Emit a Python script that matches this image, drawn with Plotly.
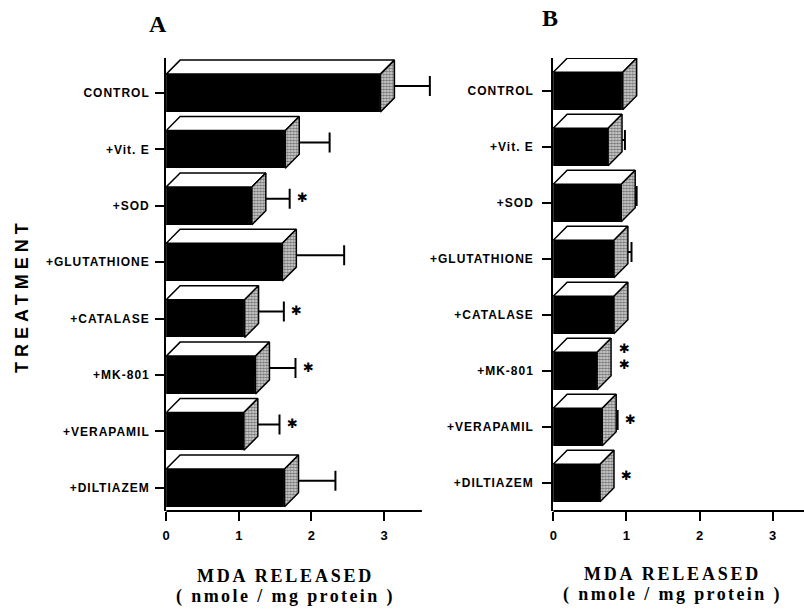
import plotly.graph_objects as go

# ---------------- data ----------------
treatments = ["CONTROL", "+Vit. E", "+SOD", "+GLUTATHIONE",
              "+CATALASE", "+MK-801", "+VERAPAMIL", "+DILTIAZEM"]
mda_a = [2.95, 1.64, 1.18, 1.60, 1.08, 1.23, 1.07, 1.63]
sem_a = [0.68, 0.61, 0.52, 0.85, 0.54, 0.55, 0.49, 0.70]
sig_a = [0, 0, 1, 0, 1, 1, 1, 0]
mda_b = [0.95, 0.75, 0.93, 0.83, 0.83, 0.60, 0.67, 0.64]
sem_b = [0.10, 0.23, 0.21, 0.24, 0.10, 0.10, 0.21, 0.10]
sig_b = [0, 0, 0, 0, 0, 2, 1, 1]
x_ticks = [0, 1, 2, 3]
panel_letters = ["A", "B"]
x_title = ["MDA RELEASED", "( nmole / mg protein )"]
y_title = "TREATMENT"
star = "\u2731"

# ---------------- layout geometry (pixels) ----------------
W, H = 804, 611
DEPTH = 14          # 3-D depth of bars, px
BAR_W = 0.67        # front-face thickness (category units)

panels = [
    dict(vals=mda_a, err=sem_a, sig=sig_a, xpx=(163, 445), axis_end=420, ytop=58, ybot=511,
         y0=93, ystep=56.4, xunit=73.0, xa="x", ya="y", title_x=283, title_y=576,
         letter=(155, 24), ystand=3),
    dict(vals=mda_b, err=sem_b, sig=sig_b, xpx=(552, 804), axis_end=804, ytop=58, ybot=511,
         y0=91, ystep=56.0, xunit=73.5, xa="x2", ya="y2", title_x=672, title_y=574,
         letter=(549, 18), ystand=6),
]

fig = go.Figure()
annotations = []
shapes = []
idx = list(range(len(treatments)))
serif = "Liberation Serif, Times New Roman, serif"
sans = "Liberation Sans, Arial, sans-serif"

for p_i, p in enumerate(panels):
    vals, err = p["vals"], p["err"]
    dx = DEPTH / p["xunit"]
    dy = DEPTH / p["ystep"]
    xa, ya = p["xa"], p["ya"]

    # front faces
    fig.add_trace(go.Bar(x=vals, y=idx, orientation="h", width=BAR_W, base=0,
                         marker=dict(color="black", line=dict(color="black", width=1)),
                         xaxis=xa, yaxis=ya, showlegend=False, hoverinfo="skip"))
    # error bars (drawn from the middle of the bar depth)
    fig.add_trace(go.Scatter(x=vals, y=[i - dy / 2 for i in idx], mode="markers",
                             marker=dict(size=1, color="rgba(0,0,0,0)"),
                             error_x=dict(type="data", array=err, arrayminus=[0] * len(err),
                                          symmetric=False, color="black", thickness=2, width=10),
                             xaxis=xa, yaxis=ya, showlegend=False, hoverinfo="skip"))
    # top faces
    tx, ty = [], []
    for i, v in zip(idx, vals):
        top = i - BAR_W / 2
        tx += [0, v, v + dx, dx, 0, None]
        ty += [top, top, top - dy, top - dy, top, None]
    fig.add_trace(go.Scatter(x=tx, y=ty, mode="lines", fill="toself", fillcolor="white",
                             line=dict(color="black", width=1.5),
                             xaxis=xa, yaxis=ya, showlegend=False, hoverinfo="skip"))
    # side faces (stippled)
    sx, sy = [], []
    for i, v in zip(idx, vals):
        top, bot = i - BAR_W / 2, i + BAR_W / 2
        sx += [v, v + dx, v + dx, v, v, None]
        sy += [top, top - dy, bot - dy, bot, top, None]
    fig.add_trace(go.Scatter(x=sx, y=sy, mode="lines", fill="toself", fillcolor="#8a8a8a",
                             fillpattern=dict(shape=".", bgcolor="#e0e0e0", fgcolor="#111111",
                                              size=3, solidity=0.6),
                             line=dict(color="black", width=1.5),
                             xaxis=xa, yaxis=ya, showlegend=False, hoverinfo="skip"))

    # significance asterisks
    for i, v, e, n in zip(idx, vals, err, p["sig"]):
        for k in range(n):
            annotations.append(dict(
                x=v + max(e, dx), y=i, xref=xa, yref=ya, text=star, showarrow=False,
                xanchor="center", yanchor="middle", xshift=13,
                yshift=8 - (n - 1) + 16 * k,
                font=dict(family="DejaVu Sans", size=13, color="black")))

    # axes
    x0, x1 = p["xpx"]
    xrng = [0, (x1 - x0) / p["xunit"]]
    yrng = [(p["ybot"] - p["y0"]) / p["ystep"], (p["ytop"] - p["y0"]) / p["ystep"]]
    xdom = [x0 / W, x1 / W]
    ydom = [(H - p["ybot"]) / H, (H - p["ytop"]) / H]
    suffix = "" if p_i == 0 else "2"
    fig.layout["xaxis" + suffix] = dict(
        domain=xdom, range=xrng, anchor="y" + suffix, tickvals=x_ticks,
        showline=False, ticks="outside", ticklen=9,
        tickwidth=2, tickcolor="black", showgrid=False, zeroline=False,
        ticklabelstandoff=3,
        tickfont=dict(family=sans, size=13, color="black", weight="bold"))
    fig.layout["yaxis" + suffix] = dict(
        domain=ydom, range=yrng, anchor="x" + suffix, tickvals=idx,
        ticktext=['<span style="letter-spacing:1px">%s</span>' % t for t in treatments],
        showline=True, linecolor="black", linewidth=2, ticks="outside", ticklen=9,
        tickwidth=2, tickcolor="black", showgrid=False, zeroline=False,
        ticklabelstandoff=p["ystand"],
        tickfont=dict(family=sans, size=12, color="black", weight="bold"))
    # x-axis baseline (ends before the plotting area does, as in the original)
    shapes.append(dict(type="line", xref=xa, yref=ya + " domain",
                       x0=0, x1=(p["axis_end"] - x0) / p["xunit"], y0=0, y1=0,
                       line=dict(color="black", width=2), layer="above"))

    # axis titles and panel letters
    annotations.append(dict(x=p["title_x"] / W, y=1 - p["title_y"] / H, xref="paper", yref="paper",
                            text='<span style="letter-spacing:2.8px">%s</span>' % x_title[0],
                            showarrow=False, xanchor="center", yanchor="middle",
                            font=dict(family=serif, size=18, color="black", weight="bold")))
    annotations.append(dict(x=p["title_x"] / W, y=1 - (p["title_y"] + 20.5) / H, xref="paper",
                            yref="paper",
                            text='<span style="letter-spacing:2.4px">%s</span>' % x_title[1],
                            showarrow=False, xanchor="center", yanchor="middle",
                            font=dict(family=serif, size=18, color="black", weight="bold")))
    lx, ly = p["letter"]
    annotations.append(dict(x=lx / W, y=1 - ly / H, xref="paper", yref="paper",
                            text=panel_letters[p_i], showarrow=False, xanchor="center",
                            yanchor="middle",
                            font=dict(family=serif, size=24, color="black", weight="bold")))

annotations.append(dict(x=18 / W, y=1 - 295 / H, xref="paper", yref="paper",
                        text='<span style="letter-spacing:5px">%s</span>' % y_title,
                        textangle=-90, showarrow=False, xanchor="center", yanchor="middle",
                        font=dict(family=sans, size=18, color="black", weight="bold")))

fig.update_layout(width=W, height=H, margin=dict(l=0, r=0, t=0, b=0),
                  paper_bgcolor="white", plot_bgcolor="white", bargap=0,
                  annotations=annotations, shapes=shapes)

fig.write_html("out.html", config={"displayModeBar": False},
               post_script="document.body.style.margin='0';")
